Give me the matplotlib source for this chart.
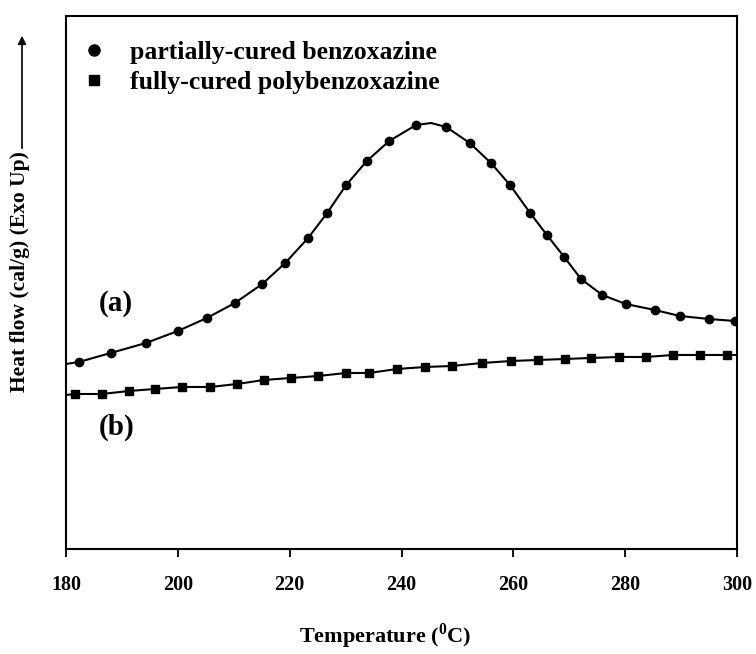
import matplotlib.pyplot as plt
from matplotlib.lines import Line2D

plt.rcParams['font.family'] = ['Liberation Serif', 'DejaVu Serif']
plt.rcParams['font.weight'] = 'bold'
plt.rcParams['mathtext.fontset'] = 'custom'
plt.rcParams['mathtext.rm'] = 'Liberation Serif:bold'
plt.rcParams['mathtext.bf'] = 'Liberation Serif:bold'

# (a) partially-cured benzoxazine -- temperature (C) and heat flow (arb. units)
temp_a = [180.0, 182.3, 188.0, 194.3, 200.0, 205.2, 210.2, 215.1, 219.2, 223.3,
          226.7, 230.1, 233.8, 237.8, 242.6, 245.3, 248.0, 252.2, 256.0, 259.4,
          263.0, 266.0, 269.1, 272.1, 275.9, 280.1, 285.3, 289.8, 295.0, 299.6]
flow_a = [185, 187, 196, 206, 218, 231, 246, 265, 286, 311,
          336, 364, 388, 408, 424, 426, 422, 406, 386, 364,
          336, 314, 292, 270, 254, 245, 239, 233, 230, 228]
marks_a = [i for i in range(len(temp_a)) if i not in (0, 15)]

# (b) fully-cured polybenzoxazine
temp_b = [180.0, 181.6, 186.4, 191.3, 195.9, 200.7, 205.8, 210.6, 215.4, 220.2,
          225.1, 230.1, 234.2, 239.2, 244.2, 249.0, 254.4, 259.6, 264.4, 269.2,
          273.9, 278.9, 283.7, 288.6, 293.4, 298.2, 300.0]
flow_b = [154, 155, 155, 158, 160, 162, 162, 165, 169, 171,
          173, 176, 176, 180, 182, 183, 186, 188, 189, 190,
          191, 192, 192, 194, 194, 194, 194]
marks_b = list(range(1, len(temp_b) - 1))

xticks = [180, 200, 220, 240, 260, 280, 300]

fig = plt.figure(figsize=(7.56, 6.54), dpi=100)
ax = fig.add_axes([0.0873, 0.1606, 0.8876, 0.8149])

ax.plot(temp_a, flow_a, color='black', lw=1.5, marker='o', ms=6,
        markevery=marks_a)
ax.plot(temp_b, flow_b, color='black', lw=1.5, marker='s', ms=6,
        markevery=marks_b)

ax.set_xlim(180, 300)
ax.set_ylim(0, 533)
ax.set_xticks(xticks)
ax.set_yticks([])
ax.tick_params(axis='x', direction='out', length=6, width=1.3, pad=13,
               labelsize=14.5)
for sp in ax.spines.values():
    sp.set_linewidth(1.5)

ax.text(185.8, 245, '(a)', fontsize=21, fontweight='bold', va='center')
ax.text(185.8, 122, '(b)', fontsize=21, fontweight='bold', va='center')

handles = [Line2D([], [], ls='none', marker='o', ms=8, color='black'),
           Line2D([], [], ls='none', marker='s', ms=7, color='black')]
ax.legend(handles, ['partially-cured benzoxazine', 'fully-cured polybenzoxazine'],
          loc='upper left', bbox_to_anchor=(-0.012, 0.997), frameon=False,
          handlelength=1.0, handletextpad=0.9, labelspacing=0.3,
          prop={'size': 18.5, 'weight': 'bold'})

fig.text(385 / 756, 1 - 636 / 654, r'Temperature ($^{\mathrm{0}}$C)',
         ha='center', va='center', fontsize=16, fontweight='bold')

fig.text(20 / 756, 1 - 272 / 654, 'Heat flow (cal/g) (Exo Up)', rotation=90,
         ha='center', va='center', fontsize=15.5, fontweight='bold')
ax.annotate('', xy=(22 / 756, 1 - 33 / 654), xytext=(22 / 756, 1 - 151 / 654),
            xycoords='figure fraction', textcoords='figure fraction',
            arrowprops=dict(arrowstyle='-|>', color='black', lw=1.2,
                            mutation_scale=12))

fig.savefig('out.png', dpi=100)
